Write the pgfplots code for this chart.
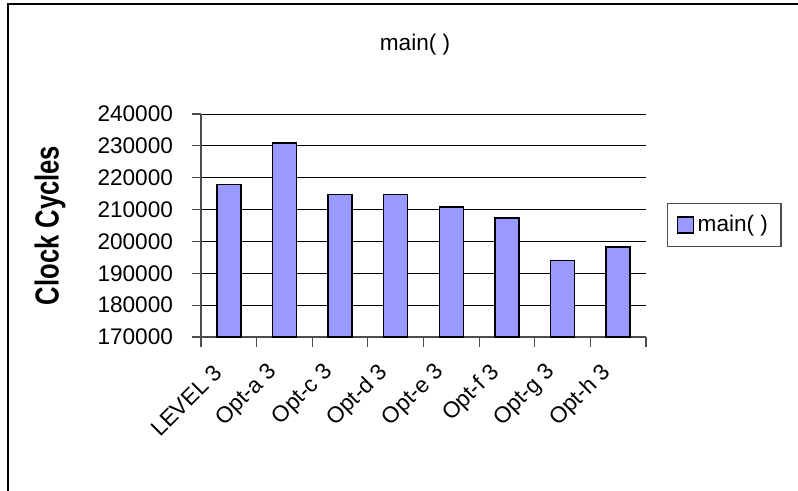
\documentclass[border=0pt]{standalone}
\usepackage{fontspec}
\setmainfont{Liberation Sans}
\usepackage{pgfplots}
\pgfplotsset{compat=1.18}
\definecolor{barfill}{HTML}{9999FF}

\begin{document}
\begin{tikzpicture}[x=0.5pt, y=-0.5pt]
  % page = 798 x 491 px at 0.5pt per px
  \path[use as bounding box] (0,0) rectangle (798,491);
  \draw[line width=1pt] (7.5,491) -- (7.5,4) -- (798,4);
  \begin{axis}[
    at={(100.5pt,-168.5pt)}, anchor=south west,
    scale only axis,
    width=222.5pt, height=111.5pt,
    ybar, bar width=12pt,
    xmin=-0.5, xmax=7.5,
    ymin=170000, ymax=240000,
    scaled y ticks=false,
    ytick={170000,180000,190000,200000,210000,220000,230000,240000},
    yticklabels={170000,180000,190000,200000,210000,220000,230000,240000},
    yticklabel style={xshift=-6pt},
    ymajorgrids, grid style={black, line width=0.5pt},
    axis x line*=bottom, axis y line*=left,
    axis line style={black!70, line width=0.6pt},
    tick align=outside,
    major tick length=4.5pt,
    minor tick length=5pt,
    tick style={black!70, line width=0.6pt},
    xtick={0,...,7},
    xticklabels={LEVEL 3, Opt-a 3, Opt-c 3, Opt-d 3, Opt-e 3, Opt-f 3, Opt-g 3, Opt-h 3},
    every major x tick/.style={draw=none},
    minor xtick={-0.5,0.5,...,7.5},
    xticklabel style={yshift=-9pt, xshift=-3pt, rotate=45, anchor=east},
    tick label style={font=\fontsize{11.3}{13}\selectfont},
    ylabel={\scalebox{1}[1.3]{Clock Cycles}},
    ylabel style={at={(axis description cs:-0.339,0.5)}, anchor=center,
      font=\fontsize{12.8}{14}\selectfont\bfseries},
    title={main( )},
    title style={at={(axis description cs:0.481,1)}, anchor=center, yshift=28.5pt,
      font=\fontsize{11.3}{13}\selectfont},
    legend style={at={(axis description cs:1.047,0.502)}, anchor=west,
      draw=black!70, line width=0.6pt, font=\fontsize{11.3}{13}\selectfont,
      inner xsep=4.5pt, inner ysep=4pt},
    legend image code/.code={\draw[#1, line width=0.6pt] (0pt,-4pt) rectangle (8pt,4pt);},
    clip=false,
  ]
    \addplot[fill=barfill, draw=black, line width=0.7pt]
      coordinates {(0,217800) (1,230900) (2,214800) (3,214800) (4,210800) (5,207300) (6,194100) (7,198300)};
    \legend{main( )}
  \end{axis}
\end{tikzpicture}
\end{document}
